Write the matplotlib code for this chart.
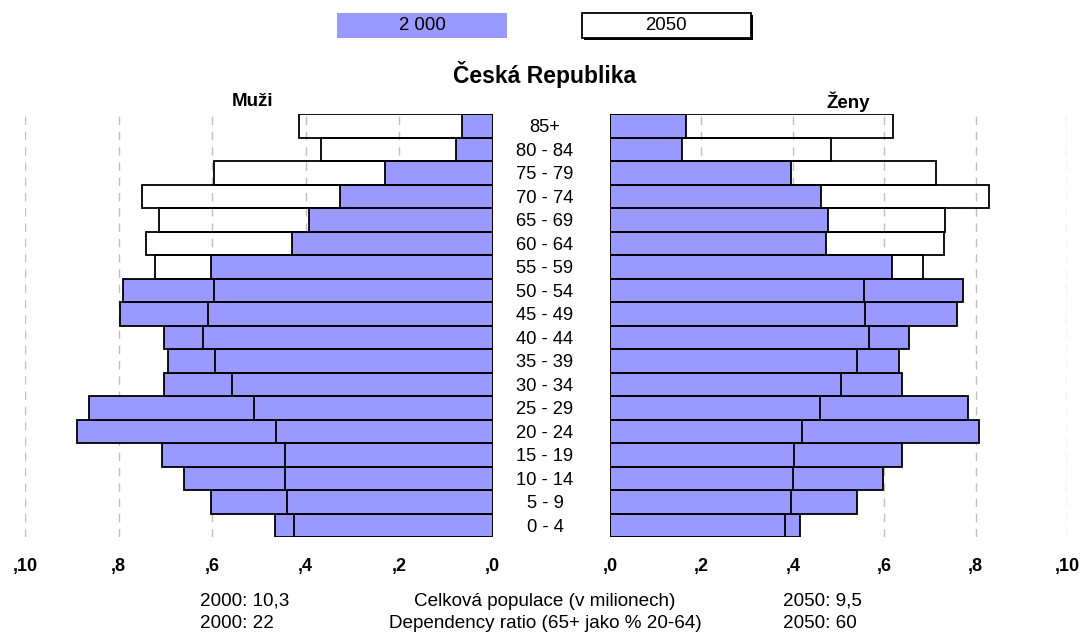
import matplotlib
matplotlib.use("Agg")
import matplotlib.pyplot as plt
from matplotlib.patches import Rectangle

plt.rcParams['font.family'] = ['Liberation Sans', 'DejaVu Sans']

# age groups, bottom to top
ages = ['0 - 4', '5 - 9', '10 - 14', '15 - 19', '20 - 24', '25 - 29', '30 - 34',
        '35 - 39', '40 - 44', '45 - 49', '50 - 54', '55 - 59', '60 - 64',
        '65 - 69', '70 - 74', '75 - 79', '80 - 84', '85+']

muzi_2000 = [4.65, 6.03, 6.61, 7.07, 8.89, 8.64, 7.03, 6.95, 7.02, 7.97, 7.90,
             6.03, 4.29, 3.92, 3.27, 2.30, 0.78, 0.66]
muzi_2050 = [4.24, 4.39, 4.44, 4.45, 4.64, 5.11, 5.58, 5.94, 6.19, 6.08, 5.95,
             7.22, 7.42, 7.13, 7.49, 5.96, 3.68, 4.14]
zeny_2000 = [4.16, 5.40, 5.97, 6.38, 8.08, 7.84, 6.38, 6.33, 6.54, 7.59, 7.72,
             6.17, 4.72, 4.76, 4.61, 3.95, 1.57, 1.66]
zeny_2050 = [3.83, 3.96, 4.01, 4.02, 4.20, 4.60, 5.05, 5.40, 5.67, 5.59, 5.56,
             6.85, 7.30, 7.34, 8.29, 7.13, 4.83, 6.20]

ticks = [0, 2, 4, 6, 8, 10]
tick_labels = [',0', ',2', ',4', ',6', ',8', ',10']

W, H = 1081, 635
fig = plt.figure(figsize=(W / 100, H / 100), dpi=100)

blue = '#9999FF'
y = range(len(ages))
top, bottom = 114, 537

def px_axes(x0, x1):
    return fig.add_axes([x0 / W, 1 - bottom / H, (x1 - x0) / W, (bottom - top) / H])

ax_m = px_axes(25, 492.7)
ax_z = px_axes(610, 1067)

for ax, d2000, d2050 in [(ax_m, muzi_2000, muzi_2050), (ax_z, zeny_2000, zeny_2050)]:
    ax.barh(y, d2000, height=1.0, color=blue, edgecolor='black', linewidth=1.3, zorder=2)
    ax.barh(y, d2050, height=1.0, fill=False, edgecolor='black', linewidth=1.3, zorder=3)
    ax.set_xlim(0, 10)
    ax.set_ylim(-0.5, len(ages) - 0.5)
    for t in ticks[1:]:
        ax.axvline(t, color='#c0c0c0', linewidth=1, linestyle=(0, (6, 5)), zorder=0)
    ax.set_xticks(ticks)
    ax.set_xticklabels(tick_labels, fontweight='bold', fontsize=13)
    ax.tick_params(axis='x', length=0, pad=15)
    ax.set_yticks([])
    for s in ax.spines.values():
        s.set_visible(False)
    ax.patch.set_alpha(0)

ax_m.invert_xaxis()

# age labels in the middle
for i, a in enumerate(ages):
    yy = 1 - (bottom + 2) / H + (i + 0.5) / len(ages) * (bottom - top) / H
    fig.text(545 / W, yy, a, ha='center', va='center', fontsize=13.2)

# legend boxes
fig.patches.append(Rectangle((337 / W, 1 - 38 / H), 170 / W, 25 / H, transform=fig.transFigure,
                             facecolor=blue, edgecolor='none'))
fig.patches.append(Rectangle((584 / W, 1 - 40 / H), 169 / W, 25 / H, transform=fig.transFigure,
                             facecolor='black', edgecolor='none'))
fig.patches.append(Rectangle((582 / W, 1 - 38 / H), 169 / W, 25 / H, transform=fig.transFigure,
                             facecolor='white', edgecolor='black', linewidth=1.3))
fig.text(422 / W, 1 - 26 / H, '2 000', ha='center', va='center', fontsize=13.4)
fig.text(666 / W, 1 - 26 / H, '2050', ha='center', va='center', fontsize=13.4)

fig.text(545 / W, 1 - 75 / H, 'Česká Republika', ha='center', va='center',
         fontsize=16.5, fontweight='bold')
fig.text(253 / W, 1 - 102 / H, 'Muži', ha='center', va='center', fontsize=13.5, fontweight='bold')
fig.text(848 / W, 1 - 102 / H, 'Ženy', ha='center', va='center', fontsize=13.5, fontweight='bold')

# bottom summary
fig.text(200 / W, 1 - 601 / H, '2000: 10,3', ha='left', va='center', fontsize=13.6)
fig.text(545 / W, 1 - 601 / H, 'Celková populace (v milionech)', ha='center', va='center', fontsize=13.6)
fig.text(783 / W, 1 - 601 / H, '2050: 9,5', ha='left', va='center', fontsize=13.6)
fig.text(200 / W, 1 - 623 / H, '2000: 22', ha='left', va='center', fontsize=13.6)
fig.text(545 / W, 1 - 623 / H, 'Dependency ratio (65+ jako % 20-64)', ha='center', va='center', fontsize=13.6)
fig.text(783 / W, 1 - 623 / H, '2050: 60', ha='left', va='center', fontsize=13.6)

fig.savefig('out.png', dpi=100)
